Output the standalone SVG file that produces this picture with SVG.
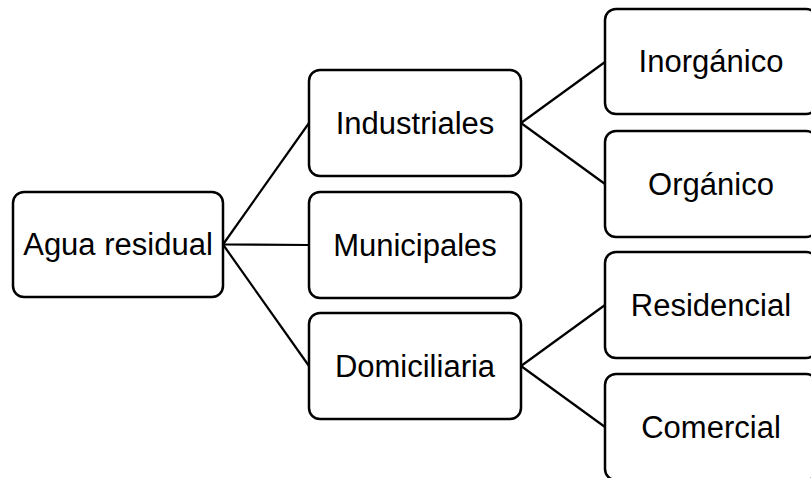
<svg xmlns="http://www.w3.org/2000/svg" width="811" height="478" viewBox="0 0 811 478">
<style>
.box{fill:#fff;stroke:#000;stroke-width:2.5}
.lbl{font-family:"Liberation Sans",Arial,sans-serif;font-size:31px;fill:#000;text-anchor:middle}
.con{stroke:#000;stroke-width:2.2;fill:none}
</style>
<rect width="811" height="478" fill="#fff"/>
<g id="connectors">
<line class="con" x1="223" y1="244.5" x2="309" y2="123"/>
<line class="con" x1="223" y1="244.5" x2="309" y2="245"/>
<line class="con" x1="223" y1="244.5" x2="309" y2="366"/>
<line class="con" x1="521" y1="123" x2="605" y2="62"/>
<line class="con" x1="521" y1="123" x2="605" y2="184"/>
<line class="con" x1="521" y1="366" x2="605" y2="305"/>
<line class="con" x1="521" y1="366" x2="605" y2="427"/>
</g>
<g id="agua">
<rect class="box" x="13" y="192" width="210" height="105" rx="11"/>
<text class="lbl" x="118" y="255">Agua residual</text>
</g>
<g id="industriales">
<rect class="box" x="309" y="70" width="212" height="106" rx="11"/>
<text class="lbl" x="415" y="134">Industriales</text>
</g>
<g id="municipales">
<rect class="box" x="309" y="192" width="212" height="106" rx="11"/>
<text class="lbl" x="415" y="256">Municipales</text>
</g>
<g id="domiciliaria">
<rect class="box" x="309" y="313" width="212" height="106" rx="11"/>
<text class="lbl" x="415" y="377">Domiciliaria</text>
</g>
<g id="inorganico">
<rect class="box" x="605" y="9" width="212" height="105" rx="11"/>
<text class="lbl" x="711" y="72">Inorgánico</text>
</g>
<g id="organico">
<rect class="box" x="605" y="131" width="212" height="106" rx="11"/>
<text class="lbl" x="711" y="195">Orgánico</text>
</g>
<g id="residencial">
<rect class="box" x="605" y="252" width="212" height="106" rx="11"/>
<text class="lbl" x="711" y="316">Residencial</text>
</g>
<g id="comercial">
<rect class="box" x="605" y="374" width="212" height="106" rx="11"/>
<text class="lbl" x="711" y="438">Comercial</text>
</g>
</svg>
